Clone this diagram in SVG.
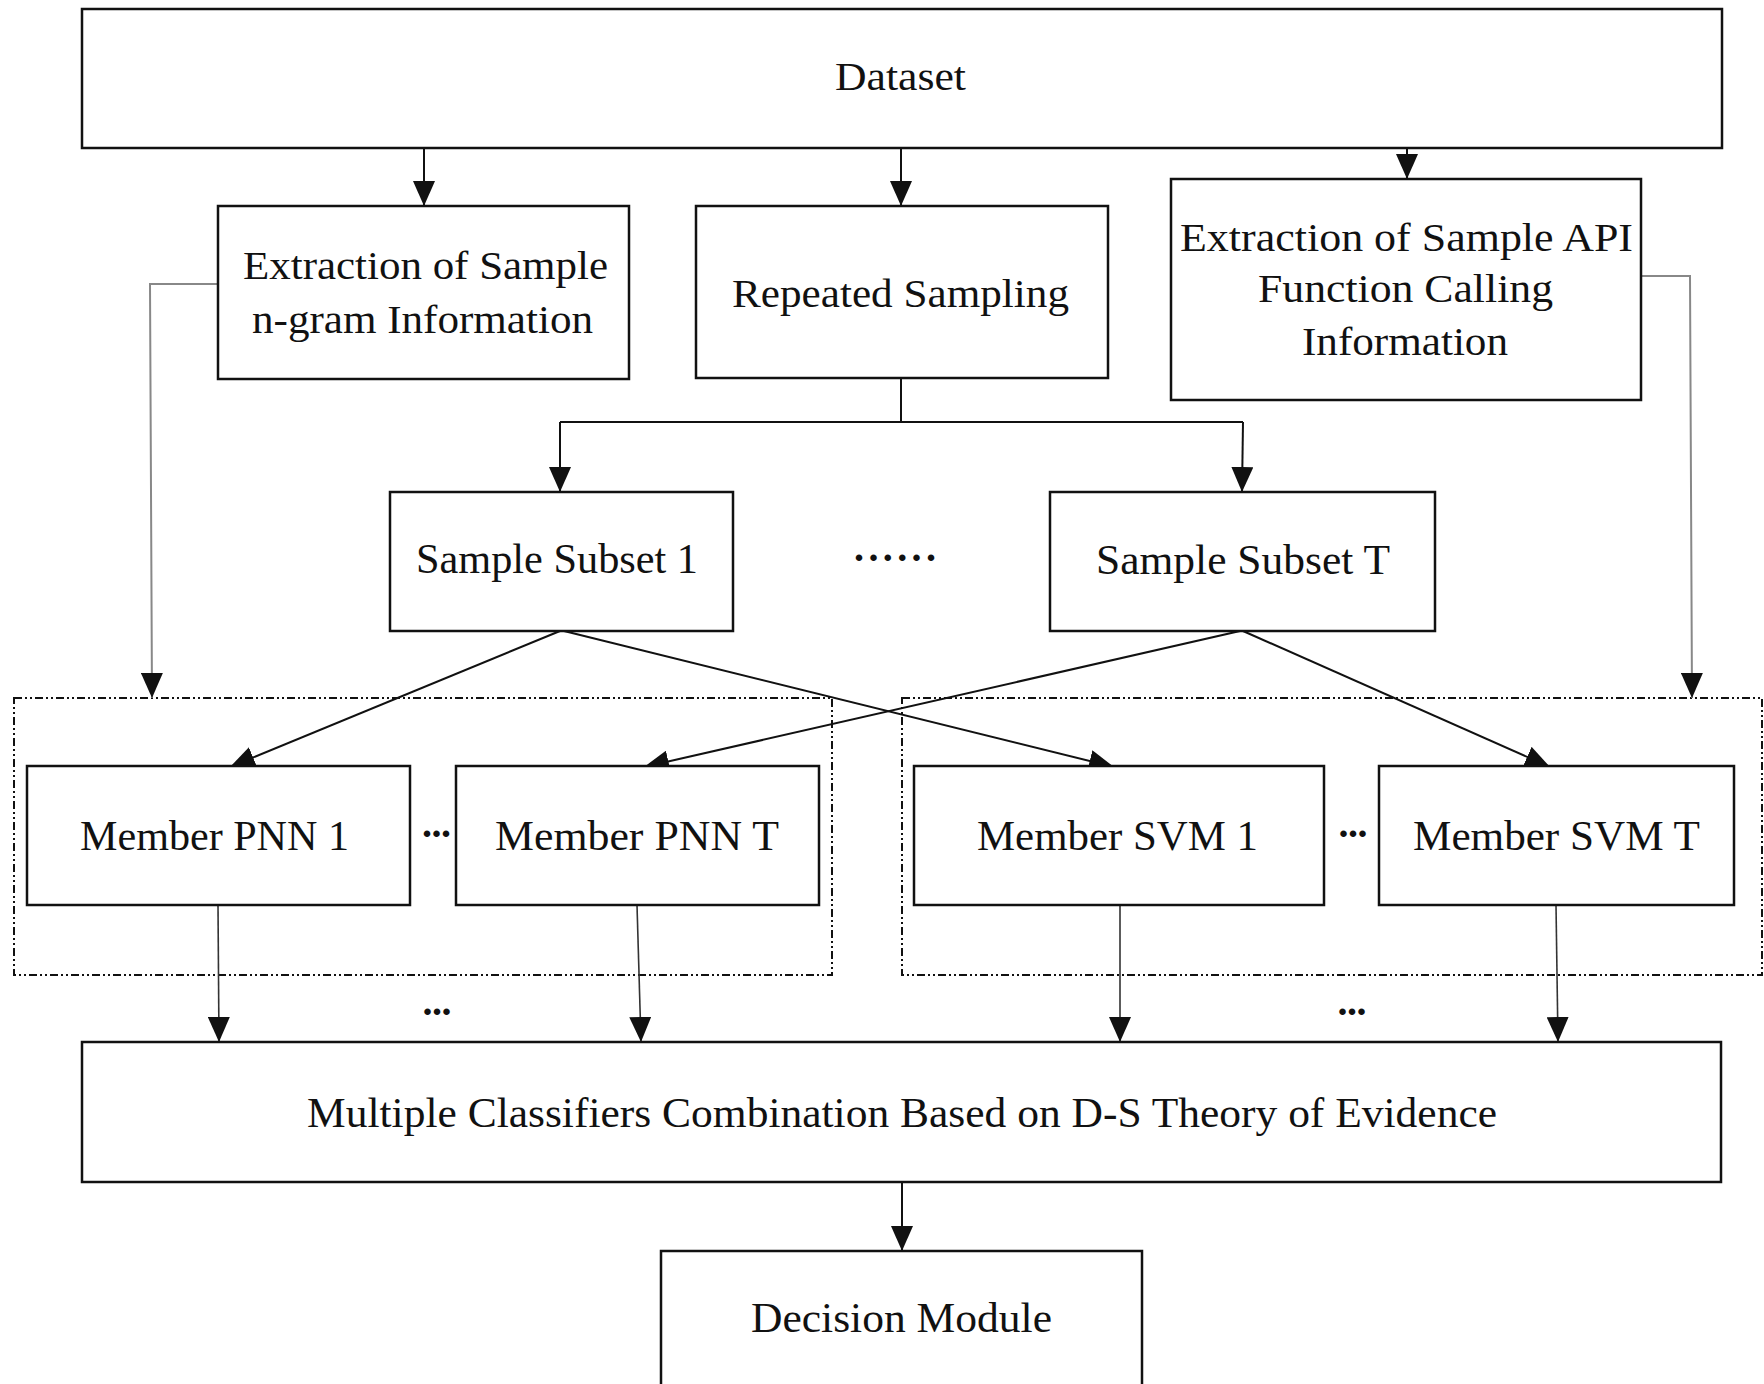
<svg xmlns="http://www.w3.org/2000/svg" width="1764" height="1384" viewBox="0 0 1764 1384">
<style>
.box{fill:#fff;stroke:#111;stroke-width:2.5}
.grp{fill:none;stroke:#111;stroke-width:2;stroke-dasharray:8 3 2 3 2 3}
.t{font-family:"Liberation Serif","Times New Roman",serif;font-size:40px;fill:#111;text-anchor:middle}
.tl{font-family:"Liberation Serif","Times New Roman",serif;font-size:42px;fill:#111;text-anchor:middle}
.dots{font-family:"Liberation Serif","Times New Roman",serif;font-size:40px;font-weight:bold;fill:#111;text-anchor:middle}
.c{fill:none;stroke:#111;stroke-width:2}
.g{fill:none;stroke:#888;stroke-width:2}
.d{fill:none;stroke:#333;stroke-width:1.6}
</style>
<defs>
<marker id="ah" viewBox="0 0 25 22" refX="25" refY="11" markerWidth="25" markerHeight="22" markerUnits="userSpaceOnUse" orient="auto">
<path d="M0,0 L25,11 L0,22 z" fill="#111"/>
</marker>
</defs>
<rect width="1764" height="1384" fill="#fff"/>

<g id="group-pnn"><rect class="grp" x="14" y="698" width="818" height="277"/></g>
<g id="group-svm"><rect class="grp" x="902" y="698" width="860" height="277"/></g>

<g id="connectors">
<line class="c" x1="424" y1="148" x2="424" y2="206" marker-end="url(#ah)"/>
<line class="c" x1="901" y1="148" x2="901" y2="206" marker-end="url(#ah)"/>
<line class="c" x1="1407" y1="148" x2="1407" y2="179" marker-end="url(#ah)"/>
<polyline class="c" points="901,378 901,422"/>
<polyline class="c" points="560,422 1243,422"/>
<line class="c" x1="560" y1="422" x2="560" y2="492" marker-end="url(#ah)"/>
<line class="c" x1="1243" y1="422" x2="1242" y2="492" marker-end="url(#ah)"/>
<polyline class="g" points="218,284 150,284 152,698" marker-end="url(#ah)"/>
<polyline class="g" points="1641,276 1690,276 1692,698" marker-end="url(#ah)"/>
<line class="c" x1="560" y1="631" x2="230" y2="767" marker-end="url(#ah)"/>
<line class="c" x1="564" y1="631" x2="1114" y2="767" marker-end="url(#ah)"/>
<line class="c" x1="1240" y1="631" x2="644" y2="767" marker-end="url(#ah)"/>
<line class="c" x1="1243" y1="631" x2="1550" y2="767" marker-end="url(#ah)"/>
<line class="d" x1="218" y1="905" x2="219" y2="1042" marker-end="url(#ah)"/>
<line class="d" x1="637" y1="905" x2="641" y2="1042" marker-end="url(#ah)"/>
<line class="d" x1="1120" y1="905" x2="1120" y2="1042" marker-end="url(#ah)"/>
<line class="d" x1="1556" y1="905" x2="1558" y2="1042" marker-end="url(#ah)"/>
<line class="c" x1="902" y1="1182" x2="902" y2="1251" marker-end="url(#ah)"/>
</g>

<g id="dataset"><rect class="box" x="82" y="9" width="1640" height="139"/>
<text class="t" x="900.5" y="90" textLength="131" lengthAdjust="spacingAndGlyphs">Dataset</text></g>

<g id="ngram"><rect class="box" x="218" y="206" width="411" height="173"/>
<text class="t" x="425.5" y="279" textLength="365" lengthAdjust="spacingAndGlyphs">Extraction of Sample</text>
<text class="t" x="422.5" y="333" textLength="341" lengthAdjust="spacingAndGlyphs">n-gram Information</text></g>

<g id="repeated"><rect class="box" x="696" y="206" width="412" height="172"/>
<text class="t" x="900.5" y="307" textLength="337" lengthAdjust="spacingAndGlyphs">Repeated Sampling</text></g>

<g id="api"><rect class="box" x="1171" y="179" width="470" height="221"/>
<text class="t" x="1406.5" y="251" textLength="453" lengthAdjust="spacingAndGlyphs">Extraction of Sample API</text>
<text class="t" x="1405.5" y="302" textLength="295" lengthAdjust="spacingAndGlyphs">Function Calling</text>
<text class="t" x="1405" y="355" textLength="206" lengthAdjust="spacingAndGlyphs">Information</text></g>

<g id="subset1"><rect class="box" x="390" y="492" width="343" height="139"/>
<text class="tl" x="557" y="573" textLength="282" lengthAdjust="spacingAndGlyphs">Sample Subset 1</text></g>

<g id="subset-dots"><text class="dots" x="895" y="561" textLength="82" lengthAdjust="spacing">......</text></g>

<g id="subsetT"><rect class="box" x="1050" y="492" width="385" height="139"/>
<text class="tl" x="1243" y="574" textLength="294" lengthAdjust="spacingAndGlyphs">Sample Subset T</text></g>

<g id="pnn1"><rect class="box" x="27" y="766" width="383" height="139"/>
<text class="tl" x="214.5" y="850" textLength="269" lengthAdjust="spacingAndGlyphs">Member PNN 1</text></g>

<g id="pnn-dots"><text class="dots" x="436.5" y="837" textLength="29" lengthAdjust="spacing">...</text></g>

<g id="pnnT"><rect class="box" x="456" y="766" width="363" height="139"/>
<text class="tl" x="637" y="850" textLength="284" lengthAdjust="spacingAndGlyphs">Member PNN T</text></g>

<g id="svm1"><rect class="box" x="914" y="766" width="410" height="139"/>
<text class="tl" x="1117.5" y="850" textLength="281" lengthAdjust="spacingAndGlyphs">Member SVM 1</text></g>

<g id="svm-dots"><text class="dots" x="1353" y="837" textLength="29" lengthAdjust="spacing">...</text></g>

<g id="svmT"><rect class="box" x="1379" y="766" width="355" height="139"/>
<text class="tl" x="1556.5" y="850" textLength="287" lengthAdjust="spacingAndGlyphs">Member SVM T</text></g>

<g id="bottom-dots">
<text class="dots" x="437" y="1015" textLength="29" lengthAdjust="spacing">...</text>
<text class="dots" x="1352" y="1015" textLength="29" lengthAdjust="spacing">...</text>
</g>

<g id="combination"><rect class="box" x="82" y="1042" width="1639" height="140"/>
<text class="tl" x="902" y="1127" textLength="1190" lengthAdjust="spacingAndGlyphs">Multiple Classifiers Combination Based on D-S Theory of Evidence</text></g>

<g id="decision"><rect class="box" x="661" y="1251" width="481" height="160"/>
<text class="tl" x="901.5" y="1332" textLength="301" lengthAdjust="spacingAndGlyphs">Decision Module</text></g>
</svg>
